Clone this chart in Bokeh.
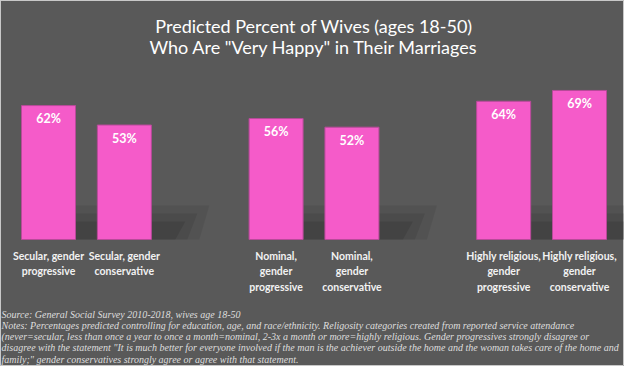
from bokeh.plotting import figure
from bokeh.models import Range1d, ColumnDataSource
from bokeh.core.properties import value
from bokeh.embed import file_html
from bokeh.resources import INLINE

# ---- data ----
title_lines = ["Predicted Percent of Wives (ages 18-50)",
               "Who Are \"Very Happy\" in Their Marriages"]
groups = ["Secular", "Nominal", "Highly religious"]
categories = ["Secular, gender\nprogressive", "Secular, gender\nconservative",
              "Nominal,\ngender\nprogressive", "Nominal,\ngender\nconservative",
              "Highly religious,\ngender\nprogressive", "Highly religious,\ngender\nconservative"]
group_index = [0, 0, 1, 1, 2, 2]
member_index = [0, 1, 0, 1, 0, 1]
values = [62, 53, 56, 52, 64, 69]
value_labels = ["62%", "53%", "56%", "52%", "64%", "69%"]
notes = [
    "Source: General Social Survey 2010-2018, wives age 18-50",
    "Notes: Percentages predicted controlling for education, age, and race/ethnicity. Religosity categories created from reported service attendance",
    "(never=secular, less than once a year to once a month=nominal, 2-3x a month or more=highly religious. Gender progressives strongly disagree or",
    "disagree with the statement \"It is much better for everyone involved if the man is the achiever outside the home and the woman takes care of the home and",
    "family;\" gender conservatives strongly agree or agree with that statement.",
]

# ---- layout ----
W, H = 624, 366
PX_X = 75.86          # px per slot
X0 = 48               # px of first bar centre
PX_Y = 2.16           # px per percent
BASE = 239            # px (from top) of the zero line
BAR_W = 0.712

xs = [g * 3 + m for g, m in zip(group_index, member_index)]

def vy(py):
    return (BASE - py) / PX_Y

def vx(px):
    return (px - X0) / PX_X

p = figure(width=W, height=H, output_backend="svg", toolbar_location=None,
           x_axis_location=None, y_axis_location=None,
           x_range=Range1d(vx(0), vx(W)), y_range=Range1d(vy(H), vy(0)),
           min_border=0, background_fill_color="#595959",
           border_fill_color="#595959")
p.grid.visible = False
p.outline_line_color = "#c8c8c8"
p.outline_line_width = 1

# soft shadows behind the bars (fading layers)
for reach, rise, alpha in [(48, 34, 0.07), (36, 26, 0.08), (24, 18, 0.10)]:
    sx, sy = [], []
    for x in xs:
        xl = x - BAR_W / 2
        xr = x + BAR_W / 2
        sx.append([xl, xr + reach / PX_X, xr + (reach + 10) / PX_X, xl + 10 / PX_X])
        sy.append([0, 0, rise / PX_Y, rise / PX_Y])
    p.patches(sx, sy, fill_color="black", fill_alpha=alpha, line_color=None)

src = ColumnDataSource(dict(x=xs, top=values, lab=value_labels, cat=categories))

p.vbar(x="x", top="top", bottom=0, width=BAR_W, source=src,
       fill_color="#F55BC9", line_color="#b84a99", line_width=1)

p.text(x="x", y="top", text="lab", source=src, y_offset=13,
       text_align="center", text_baseline="middle",
       text_font=value("Lato"), text_font_style="bold",
       text_font_size="12.5px", text_color="white")

p.text(x="x", y=vy(249), text="cat", source=src,
       text_align="center", text_baseline="top", text_line_height=1.33,
       text_font=value("Lato"), text_font_style="bold",
       text_font_size="10.5px", text_color="#f2f2f2")

p.text(x=[3.5, 3.5], y=[vy(25.5), vy(46)], text=title_lines,
       text_align="center", text_baseline="middle",
       text_font=value("Lato"), text_font_size="18px", text_color="white")

p.text(x=[vx(1)] * len(notes), y=[vy(313.7 + 11.2 * i) for i in range(len(notes))],
       text=notes, text_align="left", text_baseline="middle",
       text_font=value("Liberation Serif"), text_font_style="italic",
       text_font_size="10px", text_color="#dedede")

open("out.html", "w").write(file_html(p, INLINE))
